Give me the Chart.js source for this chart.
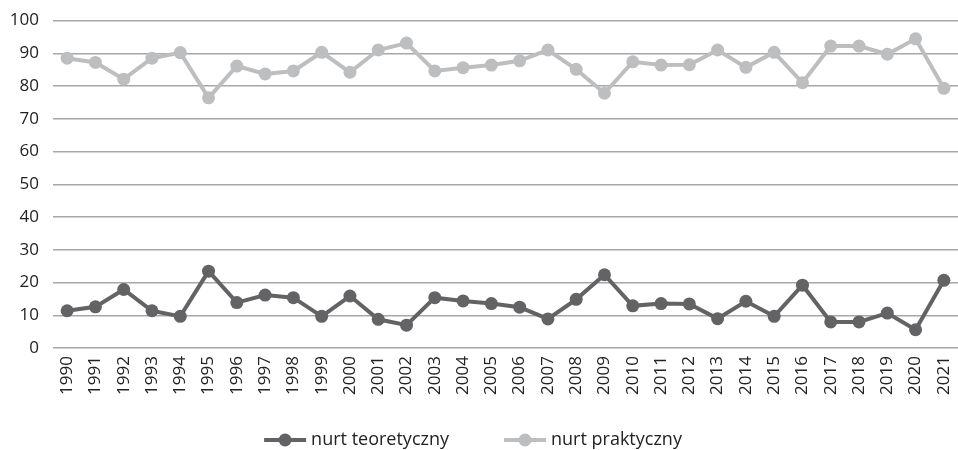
<!DOCTYPE html>
<html>
<head>
<meta charset="utf-8">
<script src="https://cdn.jsdelivr.net/npm/chart.js@4/dist/chart.umd.min.js"></script>
<style>
html,body{margin:0;padding:0;background:#fff;}
#wrap{width:958px;height:450px;position:relative;}
</style>
</head>
<body>
<div id="wrap"><canvas id="c" width="958" height="450"></canvas></div>
<script>
const years = ['1990','1991','1992','1993','1994','1995','1996','1997','1998','1999','2000','2001','2002','2003','2004','2005','2006','2007','2008','2009','2010','2011','2012','2013','2014','2015','2016','2017','2018','2019','2020','2021'];
const teoretyczny = [11.4,12.6,17.9,11.4,9.7,23.5,13.9,16.2,15.4,9.7,15.9,8.8,7.0,15.4,14.4,13.6,12.5,8.9,14.9,22.4,12.9,13.6,13.5,9.0,14.3,9.7,19.2,8.0,8.0,10.7,5.6,20.7];
const praktyczny = [88.5,87.2,82.1,88.5,90.2,76.4,86.1,83.7,84.6,90.3,84.2,91.0,93.1,84.6,85.6,86.4,87.7,91.0,85.1,77.8,87.4,86.4,86.5,91.0,85.7,90.3,81.0,92.2,92.2,89.7,94.4,79.3];
const yTicks = [0,10,20,30,40,50,60,70,80,90,100];

const darkCol = '#636365';
const lightCol = '#bdbec0';
const FONT = 'Open Sans';
const TEXT = '#222';

const bottomLegend = {
  id: 'bottomLegend',
  afterDraw(chart) {
    const ctx = chart.ctx;
    const ds = chart.data.datasets;
    ctx.save();
    ctx.font = '18px "' + FONT + '"';
    ctx.textBaseline = 'middle';
    ctx.textAlign = 'left';
    const markW = 42, gapT = 5, gapItem = 55;
    const widths = ds.map(d => ctx.measureText(d.label).width);
    let total = 0;
    widths.forEach((w, i) => { total += markW + gapT + w + (i < ds.length - 1 ? gapItem : 0); });
    let x = 473 - total / 2;
    const y = 440;
    ds.forEach((d, i) => {
      ctx.strokeStyle = d.borderColor;
      ctx.lineWidth = 4;
      ctx.beginPath(); ctx.moveTo(x, y); ctx.lineTo(x + markW, y); ctx.stroke();
      ctx.fillStyle = d.borderColor;
      ctx.beginPath(); ctx.arc(x + markW / 2, y, 6.5, 0, Math.PI * 2); ctx.fill();
      ctx.fillStyle = TEXT;
      ctx.fillText(d.label, x + markW + gapT, y);
      x += markW + gapT + widths[i] + gapItem;
    });
    ctx.restore();
  }
};

new Chart(document.getElementById('c'), {
  type: 'line',
  data: {
    labels: years,
    datasets: [
      {label:'nurt teoretyczny', data: teoretyczny, borderColor: darkCol, backgroundColor: darkCol,
       borderWidth: 4, pointRadius: 6.5, pointHoverRadius: 6.5, pointBackgroundColor: darkCol, pointBorderWidth: 0, tension: 0},
      {label:'nurt praktyczny', data: praktyczny, borderColor: lightCol, backgroundColor: lightCol,
       borderWidth: 4, pointRadius: 6.5, pointHoverRadius: 6.5, pointBackgroundColor: lightCol, pointBorderWidth: 0, tension: 0}
    ]
  },
  plugins: [bottomLegend],
  options: {
    responsive: false,
    animation: false,
    layout: {autoPadding: false, padding: {left: 0, right: 0, top: 20.5, bottom: 47}},
    plugins: {
      tooltip: {enabled: false},
      legend: {display: false}
    },
    scales: {
      x: {
        offset: true,
        afterFit: (axis) => { axis.paddingLeft = 0; axis.paddingRight = 0; },
        grid: {display: false, drawTicks: false},
        border: {display: false},
        ticks: {minRotation: 90, maxRotation: 90, autoSkip: false, padding: 8, color: TEXT,
                font: {family: FONT, size: 17}}
      },
      y: {
        min: 0, max: 100,
        afterBuildTicks: (axis) => { axis.ticks = yTicks.map(v => ({value: v})); },
        afterFit: (axis) => { axis.width = 53; axis.paddingTop = 0; axis.paddingBottom = 0; },
        grid: {color: '#a7a7a9', lineWidth: 1.5, drawTicks: false},
        border: {display: false},
        ticks: {padding: 14, color: TEXT, font: {family: FONT, size: 17}}
      }
    }
  }
});
</script>
</body>
</html>
